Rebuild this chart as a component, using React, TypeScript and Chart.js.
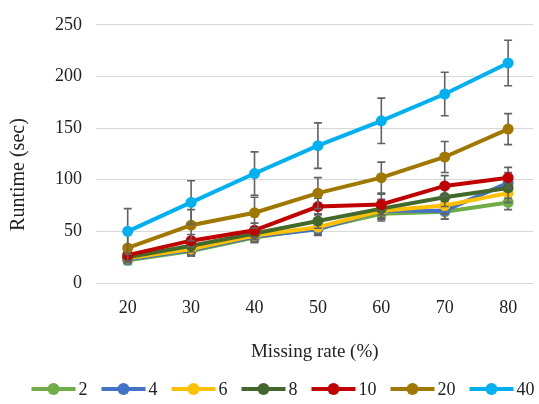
import { useEffect, useRef } from "react";
import { Chart, registerables } from "chart.js";

Chart.register(...registerables);

const categories = [20, 30, 40, 50, 60, 70, 80];
const seriesLabels = ["2", "4", "6", "8", "10", "20", "40"];
const seriesColors = ["#70AD47", "#4472C4", "#FFC000", "#43682B", "#C00000", "#A07800", "#00B0F0"];

const values2 = [22, 31, 44, 53, 67, 69, 78];
const values4 = [23, 32, 45, 52, 70, 70, 97];
const values6 = [24, 33, 46, 54, 70, 75, 87];
const values8 = [25, 36, 48, 60, 72, 83, 92];
const values10 = [27, 41, 51, 74, 76, 94, 102];
const values20 = [34, 56, 68, 87, 102, 122, 149];
const values40 = [50, 78, 106, 133, 157, 183, 213];

const errors2 = [4, 5, 5, 6, 7, 7, 7];
const errors4 = [4, 5, 5, 6, 8, 8, 10];
const errors6 = [4, 5, 6, 7, 8, 8, 9];
const errors8 = [5, 6, 6, 7, 9, 9, 10];
const errors10 = [5, 6, 7, 8, 10, 10, 10];
const errors20 = [14, 15, 15, 15, 15, 15, 15];
const errors40 = [22, 21, 21, 22, 22, 21, 22];

const yTicks = [0, 50, 100, 150, 200, 250];
const xTitle = "Missing rate (%)";
const yTitle = "Runtime (sec)";

const seriesValues = [values2, values4, values6, values8, values10, values20, values40];
const seriesErrors = [errors2, errors4, errors6, errors8, errors10, errors20, errors40];

const FONT = "'Liberation Serif', 'Times New Roman', serif";
const TEXT = "#222";

const errorBarPlugin = {
  id: "errorBars",
  beforeDatasetDraw(chart: any, args: any) {
    const di = args.index;
    const errs = seriesErrors[di];
    const vals = seriesValues[di];
    if (!errs) return;
    const { ctx, scales } = chart;
    const x = scales.x;
    const y = scales.y;
    ctx.save();
    ctx.strokeStyle = "#626262";
    ctx.lineWidth = 1.6;
    categories.forEach((c, i) => {
      const px = x.getPixelForValue(c);
      const top = y.getPixelForValue(vals[i] + errs[i]);
      const bot = y.getPixelForValue(vals[i] - errs[i]);
      ctx.beginPath();
      ctx.moveTo(px, top);
      ctx.lineTo(px, bot);
      ctx.moveTo(px - 4, top);
      ctx.lineTo(px + 4, top);
      ctx.moveTo(px - 4, bot);
      ctx.lineTo(px + 4, bot);
      ctx.stroke();
    });
    ctx.restore();
  },
};

const yTitlePlugin = {
  id: "yTitle",
  afterDraw(chart: any) {
    const { ctx, chartArea } = chart;
    ctx.save();
    ctx.font = `20px ${FONT}`;
    ctx.fillStyle = TEXT;
    ctx.textAlign = "center";
    ctx.textBaseline = "middle";
    ctx.translate(19, chartArea.top + (chartArea.bottom - chartArea.top) * 0.58);
    ctx.rotate(-Math.PI / 2);
    ctx.fillText(yTitle, 0, 0);
    ctx.restore();
  },
};

const customLegendPlugin = {
  id: "customLegend",
  afterDraw(chart: any) {
    const { ctx } = chart;
    const symW = 44;
    const gapText = 3;
    const gapItem = 14;
    const cy = 389;
    ctx.save();
    ctx.font = `18px ${FONT}`;
    const widths = seriesLabels.map((l) => ctx.measureText(l).width);
    const total =
      widths.reduce((a, b) => a + b, 0) + seriesLabels.length * (symW + gapText) + (seriesLabels.length - 1) * gapItem;
    let x = 283 - total / 2;
    seriesLabels.forEach((label, di) => {
      const color = seriesColors[di];
      ctx.strokeStyle = color;
      ctx.lineWidth = 4;
      ctx.beginPath();
      ctx.moveTo(x, cy);
      ctx.lineTo(x + symW, cy);
      ctx.stroke();
      ctx.fillStyle = color;
      ctx.beginPath();
      ctx.arc(x + symW / 2, cy, 6, 0, Math.PI * 2);
      ctx.fill();
      ctx.fillStyle = TEXT;
      ctx.textBaseline = "middle";
      ctx.textAlign = "left";
      ctx.fillText(label, x + symW + gapText, cy + 1);
      x += symW + gapText + widths[di] + gapItem;
    });
    ctx.restore();
  },
};

export default function App() {
  const ref = useRef<HTMLCanvasElement | null>(null);

  useEffect(() => {
    if (!ref.current) return;
    const chart = new Chart(ref.current, {
      type: "line",
      data: {
        datasets: seriesLabels.map((label, di) => ({
          label,
          data: categories.map((c, i) => ({ x: c, y: seriesValues[di][i] })),
          borderColor: seriesColors[di],
          backgroundColor: seriesColors[di],
          borderWidth: 4,
          pointRadius: 5.5,
          pointBorderWidth: 0,
          pointBackgroundColor: seriesColors[di],
          tension: 0,
          order: -di,
        })),
      },
      options: {
        animation: false,
        responsive: false,
        devicePixelRatio: 1,
        layout: { padding: { left: 0, right: 0, top: 19, bottom: 34 } },
        scales: {
          x: {
            type: "linear",
            min: 15,
            max: 84,
            afterBuildTicks: (s: any) => {
              s.ticks = categories.map((v) => ({ value: v }));
            },
            afterFit: (s: any) => {
              s.height = 87;
            },
            grid: { display: false },
            border: { display: false },
            ticks: {
              padding: 6,
              color: TEXT,
              font: { family: FONT, size: 18 },
            },
            title: {
              display: true,
              text: xTitle,
              color: TEXT,
              font: { family: FONT, size: 19 },
              padding: { top: 0, bottom: 7 },
            },
          },
          y: {
            min: 0,
            max: 250,
            afterBuildTicks: (s: any) => {
              s.ticks = yTicks.map((v) => ({ value: v }));
            },
            afterFit: (s: any) => {
              s.width = 96;
            },
            grid: { color: "#d9d9d9", lineWidth: 1, drawTicks: false },
            border: { display: false },
            ticks: {
              padding: 14,
              color: TEXT,
              font: { family: FONT, size: 18 },
            },
            title: { display: false },
          },
        },
        plugins: {
          tooltip: { enabled: false },
          legend: { display: false },
        },
      },
      plugins: [errorBarPlugin, yTitlePlugin, customLegendPlugin],
    } as any);
    return () => chart.destroy();
  }, []);

  return (
    <div style={{ position: "absolute", left: 0, top: 0, width: 539, height: 404, background: "#fff" }}>
      <canvas ref={ref} width={539} height={404} />
    </div>
  );
}
